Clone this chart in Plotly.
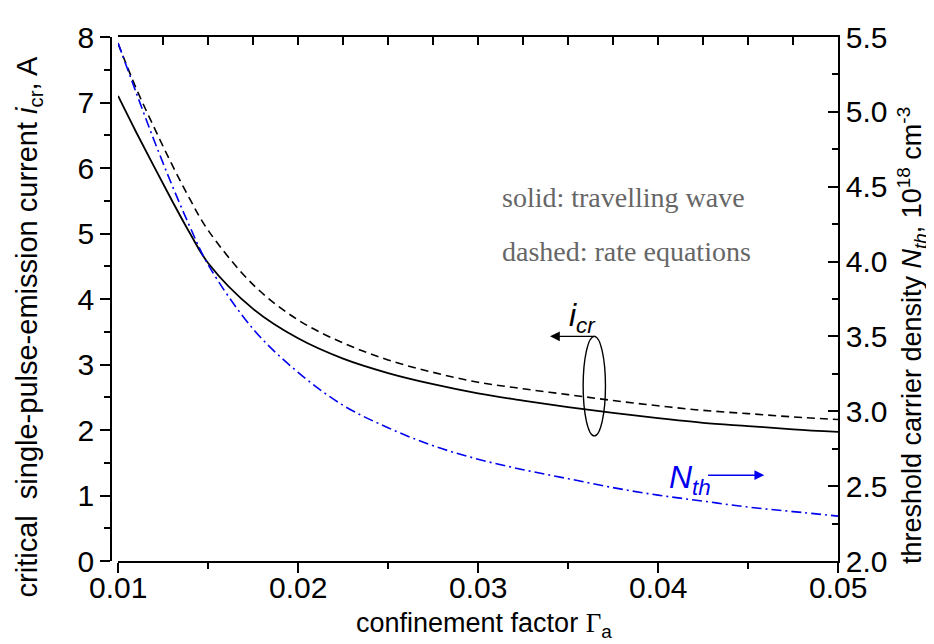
import plotly.graph_objects as go

# confinement factor values (x)
gamma = [0.010, 0.011, 0.012, 0.013, 0.014, 0.015, 0.0175, 0.020, 0.0225, 0.025,
         0.0275, 0.030, 0.0325, 0.035, 0.0375, 0.040, 0.0425, 0.045, 0.0475, 0.050]

# critical current, travelling wave (solid) and rate equations (dashed), A
icr_tw = [7.10, 6.55, 6.02, 5.50, 5.00, 4.55, 3.85, 3.40, 3.09, 2.87,
          2.70, 2.56, 2.45, 2.35, 2.26, 2.18, 2.11, 2.06, 2.01, 1.97]
icr_re = [7.90, 7.22, 6.62, 6.05, 5.52, 5.05, 4.22, 3.68, 3.33, 3.07,
          2.88, 2.73, 2.63, 2.54, 2.45, 2.37, 2.30, 2.25, 2.20, 2.16]

# threshold carrier density, 1e18 cm^-3
nth = [5.46, 5.13, 4.81, 4.51, 4.23, 3.98, 3.55, 3.26, 3.04, 2.89,
       2.77, 2.68, 2.61, 2.55, 2.49, 2.44, 2.40, 2.36, 2.33, 2.30]

x_ticks = [0.01, 0.02, 0.03, 0.04, 0.05]
x_ticktext = ["0.01", "0.02", "0.03", "0.04", "0.05"]

FONT = "Liberation Sans, Arial, sans-serif"
SERIF = "Liberation Serif, Times New Roman, serif"

# plot area on the page (the html body adds an 8px margin)
L, R, T, B = 111, 830, 26, 553


def px(xp):
    return (xp - L) / (R - L)


def py(yp):
    return (B - yp) / (B - T)


fig = go.Figure()

fig.add_trace(go.Scatter(x=gamma, y=icr_tw, mode="lines", line=dict(color="black", width=1.8, shape="spline"),
                         xaxis="x", yaxis="y", showlegend=False))
fig.add_trace(go.Scatter(x=gamma, y=icr_re, mode="lines",
                         line=dict(color="black", width=1.6, dash="8px,5px", shape="spline"),
                         xaxis="x", yaxis="y", showlegend=False))
fig.add_trace(go.Scatter(x=gamma, y=nth, mode="lines",
                         line=dict(color="#0000ee", width=1.6, dash="10px,4px,2px,4px", shape="spline"),
                         xaxis="x", yaxis="y2", showlegend=False))
# dummy trace for the top axis
fig.add_trace(go.Scatter(x=[0.01, 0.05], y=[0, 0], mode="lines", line=dict(width=0),
                         xaxis="x2", yaxis="y", showlegend=False, hoverinfo="skip"))

dom = [7 / 719, 1]
tick_common = dict(tickwidth=1.5, tickcolor="black", showline=True, linecolor="black", linewidth=1.5,
                   showgrid=False, zeroline=False)

fig.update_layout(
    width=926, height=636,
    margin=dict(l=L - 8, r=934 - R - 8, t=T - 8, b=644 - B - 8),
    plot_bgcolor="white", paper_bgcolor="white",
    font=dict(family=FONT, size=26, color="black"),
    xaxis=dict(
        domain=dom, range=[0.01, 0.05], anchor="y",
        tickvals=x_ticks, showticklabels=False,
        ticks="outside", ticklen=10,
        minor=dict(dtick=0.005, ticks="outside", ticklen=6, tickwidth=1.5, tickcolor="black"),
        **tick_common,
    ),
    xaxis2=dict(
        domain=dom, range=[0.01, 0.05], overlaying="x", side="top", anchor="y",
        dtick=0.0025, tick0=0.01, ticks="inside", ticklen=8,
        showticklabels=False,
        **tick_common,
    ),
    yaxis=dict(
        range=[0, 8], anchor="free", position=0,
        dtick=1, ticks="outside", ticklen=10,
        minor=dict(dtick=0.5, ticks="outside", ticklen=6, tickwidth=1.5, tickcolor="black"),
        tickfont=dict(size=30), ticklabeloverflow="allow",
        **tick_common,
    ),
    yaxis2=dict(
        range=[2, 5.5], overlaying="y", side="right", anchor="x",
        dtick=0.5, tickformat=".1f", ticks="inside", ticklen=10,
        minor=dict(dtick=0.25, ticks="inside", ticklen=6, tickwidth=1.5, tickcolor="black"),
        tickfont=dict(size=30), ticklabeloverflow="allow",
        **tick_common,
    ),
)

# x tick labels sit close under the axis, as in the original
for v, t in zip(x_ticks, x_ticktext):
    fig.add_annotation(x=v, y=py(580), xref="x", yref="paper", xanchor="center", yanchor="middle",
                       text=t, showarrow=False, font=dict(size=30))

# axis titles placed as annotations
fig.add_annotation(x=px(30), y=py(318), xref="paper", yref="paper", xanchor="center", yanchor="middle",
                   textangle=-90, showarrow=False,
                   text="critical  single-pulse-emission current <i>i</i><sub>cr</sub>, A",
                   font=dict(size=29))
fig.add_annotation(x=px(903), y=py(326), xref="paper", yref="paper", xanchor="center", yanchor="middle",
                   textangle=-90, showarrow=False,
                   text="threshold carrier density <i>N</i><sub><i>th</i></sub>, 10<sup>18</sup> cm<sup>-3</sup>",
                   font=dict(size=27))
fig.add_annotation(x=px(480), y=py(617), xref="paper", yref="paper", xanchor="center", yanchor="middle",
                   showarrow=False,
                   text="confinement factor <span style='font-family:Liberation Serif'>Γ</span><sub>a</sub>",
                   font=dict(size=27))

# method notes
fig.add_annotation(x=0.0312, y=5.55, xref="x", yref="y", text="solid: travelling wave",
                   showarrow=False, xanchor="left", font=dict(family=SERIF, size=28, color="#666666"))
fig.add_annotation(x=0.0312, y=4.72, xref="x", yref="y", text="dashed: rate equations",
                   showarrow=False, xanchor="left", font=dict(family=SERIF, size=28, color="#666666"))

# i_cr label with arrow to left axis
fig.add_annotation(x=0.0358, y=3.72, xref="x", yref="y", text="<i>i</i><sub><i>cr</i></sub>",
                   showarrow=False, font=dict(size=32, color="black"))
fig.add_annotation(x=0.0340, y=3.43, ax=0.0366, ay=3.43, xref="x", yref="y", axref="x", ayref="y",
                   text="", showarrow=True, arrowhead=2, arrowsize=1.4, arrowwidth=1.4, arrowcolor="black")
fig.add_shape(type="circle", xref="x", yref="y", x0=0.03584, x1=0.03708, y0=1.91, y1=3.43,
              line=dict(color="black", width=1.4))

# N_th label with arrow to right axis
fig.add_annotation(x=0.0418, y=1.25, xref="x", yref="y", text="<i>N</i><sub><i>th</i></sub>",
                   showarrow=False, font=dict(size=32, color="#0000ee"))
fig.add_annotation(x=0.0459, y=1.31, ax=0.0427, ay=1.31, xref="x", yref="y", axref="x", ayref="y",
                   text="", showarrow=True, arrowhead=2, arrowsize=1.4, arrowwidth=1.4, arrowcolor="#0000ee")

fig.write_html("out.html")
